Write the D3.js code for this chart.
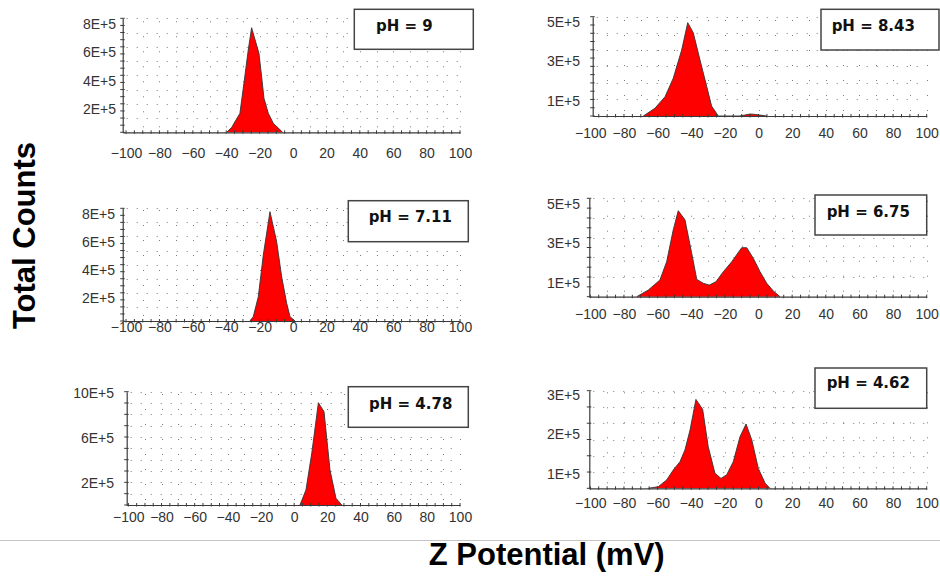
<!DOCTYPE html>
<html><head><meta charset="utf-8">
<script src="https://cdn.jsdelivr.net/npm/d3@7"></script>
<style>body{margin:0;background:#fff} svg{display:block}</style>
</head><body><svg id="c" width="940" height="576"></svg>
<script>
// ---------- data ----------
const xTickValues = [-100, -80, -60, -40, -20, 0, 20, 40, 60, 80, 100];
const phLabels = ["pH = 9", "pH = 8.43", "pH = 7.11", "pH = 6.75", "pH = 4.78", "pH = 4.62"];
const yAxisTitle = "Total Counts";
const xAxisTitle = "Z Potential (mV)";

// y tick values in units of 1E+5 counts
const yTicks_pH9   = [2, 4, 6, 8];
const yTicks_pH843 = [1, 3, 5];
const yTicks_pH711 = [2, 4, 6, 8];
const yTicks_pH675 = [1, 3, 5];
const yTicks_pH478 = [2, 6, 10];
const yTicks_pH462 = [1, 2, 3];

// zeta potential (mV) and total counts (x1E+5)
const zeta_pH9   = [-39.7, -36.7, -31.8, -29.4, -26.8, -24.8, -20.4, -18.8, -17.4, -14.8, -11.8, -6.2];
const counts_pH9 = [0, 0.35, 1.33, 3.44, 5.78, 7.34, 5.54, 3.9, 2.39, 1.33, 0.63, 0];

const zeta_pH843   = [-68.5, -61.6, -55.6, -50.7, -45.7, -42.1, -38.8, -34.8, -30.8, -27.9, -23.9, -11.4, -8, -5, -2, 4.9];
const counts_pH843 = [0, 0.39, 0.97, 1.9, 3.32, 4.7, 4.19, 2.82, 1.48, 0.5, 0, 0, 0.05, 0.1, 0.08, 0];

const zeta_pH711   = [-25.8, -23.8, -20.8, -17.8, -13.8, -9.8, -6.8, -3.8, -1.8, 1.2];
const counts_pH711 = [0, 0.31, 1.72, 4.68, 7.76, 5.63, 3.14, 1.26, 0.31, 0];

const zeta_pH675   = [-72.4, -65.5, -58.6, -54.6, -50.7, -47.7, -43.7, -39.7, -36.7, -32.8, -29.3, -25.3, -20.9, -15.9, -10.0, -7.0, -3.1, 0.9, 4.9, 8.8, 12.8];
const counts_pH675 = [0, 0.34, 0.85, 1.78, 3.39, 4.37, 3.9, 2.2, 0.88, 0.68, 0.59, 0.76, 1.27, 1.78, 2.49, 2.49, 1.95, 1.27, 0.68, 0.29, 0];

const zeta_pH478   = [3.5, 7.1, 10.6, 14.6, 18, 21.6, 25.2, 28.7];
const counts_pH478 = [0, 1.32, 4.56, 9.03, 8.24, 3.09, 0.6, 0];

const zeta_pH462   = [-65.5, -59.6, -54.6, -50.7, -46.7, -43.7, -40.7, -37.2, -33.2, -29.9, -25.9, -22.3, -18.9, -15.0, -11.0, -7.4, -4.0, -0.1, 3.9, 6.8];
const counts_pH462 = [0.54, 0.58, 0.75, 1.0, 1.21, 1.51, 2.01, 2.78, 2.53, 1.59, 0.92, 0.79, 0.88, 1.21, 1.84, 2.16, 1.76, 1.04, 0.67, 0.54];

const seriesZeta   = [zeta_pH9, zeta_pH843, zeta_pH711, zeta_pH675, zeta_pH478, zeta_pH462];
const seriesCounts = [counts_pH9, counts_pH843, counts_pH711, counts_pH675, counts_pH478, counts_pH462];
const seriesYTicks = [yTicks_pH9, yTicks_pH843, yTicks_pH711, yTicks_pH675, yTicks_pH478, yTicks_pH462];

// ---------- layout (positions / scale domains) ----------
const layouts = [
  {left:122.7, right:460,   xDom:[-102,100],   base:132.3, top:18.3,  yDom:[0,8],    rows:8,  yMinor:16, xGap:26,   yGap:6.7,  yDy:5.5, box:[354.3,9.3,119,40],    tx:404.3, ty:31},
  {left:592.7, right:926.7, xDom:[-98.6,100],  base:116,   top:16.7,  yDom:[0,5],    rows:6,  yMinor:12, xGap:22.3, yGap:12.7, yDy:5,   box:[821,9.3,118,40.7],    tx:873.3, ty:31},
  {left:122.7, right:460,   xDom:[-102,100],   base:321,   top:208.3, yDom:[0,8],    rows:8,  yMinor:16, xGap:11,   yGap:7.7,  yDy:5.5, box:[348.3,200.7,120,41],  tx:410.3, ty:222.3},
  {left:589.3, right:926.7, xDom:[-100.6,100], base:296.7, top:198.3, yDom:[0,5],    rows:5,  yMinor:10, xGap:22.6, yGap:9.3,  yDy:5.5, box:[815,195,111.7,40],    tx:868.3, ty:216.7},
  {left:126.7, right:460,   xDom:[-101,100],   base:505,   top:391.7, yDom:[0,10],   rows:10, yMinor:10, xGap:16.7, yGap:12.7, yDy:1,   box:[348.3,386.7,120,40.6], tx:410.7, ty:409},
  {left:589.3, right:926.7, xDom:[-100.6,100], base:488.3, top:390.7, yDom:[0.54,3], rows:6,  yMinor:6,  xGap:20,   yGap:9.3,  yDy:4,   box:[815,368,111.7,40.3],  tx:868.3, ty:388.3}
];

const svg = d3.select("#c");
const axisColor = "#3a3a3a";
const gridColor = "#7a7a7a";
const labelFont = "'Liberation Sans', Arial, sans-serif";

// separator line near bottom
svg.append("line").attr("x1", 0).attr("x2", 940).attr("y1", 540.5).attr("y2", 540.5)
  .attr("stroke", "#c4c4c4").attr("stroke-width", 1);

layouts.forEach((L, i) => {
  const x = d3.scaleLinear().domain(L.xDom).range([L.left, L.right]);
  const y = d3.scaleLinear().domain(L.yDom).range([L.base, L.top]);
  const g = svg.append("g");

  // dotted grid: rows
  const rowVals = d3.range(1, L.rows + 1).map(k => L.yDom[0] + k * (L.yDom[1] - L.yDom[0]) / L.rows);
  g.selectAll(".hg").data(rowVals).join("line")
    .attr("x1", L.left + 4).attr("x2", L.right)
    .attr("y1", d => Math.round(y(d)) + 0.5).attr("y2", d => Math.round(y(d)) + 0.5)
    .attr("stroke", gridColor).attr("stroke-width", 1).attr("stroke-dasharray", "1,9");
  // dotted grid: columns every 10 mV
  const colVals = d3.range(-90, 101, 10).filter(v => v > L.xDom[0] && v <= L.xDom[1]);
  g.selectAll(".vg").data(colVals).join("line")
    .attr("x1", d => Math.round(x(d)) + 0.5).attr("x2", d => Math.round(x(d)) + 0.5)
    .attr("y1", L.base - 5).attr("y2", L.top)
    .attr("stroke", gridColor).attr("stroke-width", 1).attr("stroke-dasharray", "1,14");

  // area
  const pts = seriesZeta[i].map((z, k) => [z, seriesCounts[i][k]]);
  g.append("path").datum(pts)
    .attr("d", d3.area().x(d => x(d[0])).y0(y(L.yDom[0])).y1(d => y(d[1])))
    .attr("fill", "#ff0000");
  g.append("path").datum(pts)
    .attr("d", d3.line().x(d => x(d[0])).y(d => y(d[1])))
    .attr("fill", "none").attr("stroke", "#333").attr("stroke-width", 0.9);

  // minor ticks on x axis (every 5 mV)
  const xMinor = d3.range(-100, 101, 5).filter(v => v >= L.xDom[0] && v <= L.xDom[1]);
  g.selectAll(".xm").data(xMinor).join("line")
    .attr("x1", d => x(d)).attr("x2", d => x(d))
    .attr("y1", L.base - 2).attr("y2", L.base + 1.5)
    .attr("stroke", axisColor).attr("stroke-width", 1);
  // minor ticks on y axis
  const yMinorVals = d3.range(0, L.yMinor + 1).map(k => L.yDom[0] + k * (L.yDom[1] - L.yDom[0]) / L.yMinor);
  g.selectAll(".ym").data(yMinorVals).join("line")
    .attr("x1", L.left - 2.5).attr("x2", L.left + 2)
    .attr("y1", d => y(d)).attr("y2", d => y(d))
    .attr("stroke", axisColor).attr("stroke-width", 1);

  // x axis
  const gx = g.append("g").attr("transform", `translate(0,${L.base})`)
    .call(d3.axisBottom(x).tickValues(xTickValues).tickSize(0).tickPadding(L.xGap - 10).tickSizeOuter(0));
  gx.select(".domain").attr("stroke", axisColor).attr("stroke-width", 1.2);
  gx.selectAll("text").attr("font-family", labelFont).attr("font-size", 14).attr("fill", "#333");

  // y axis
  const gy = g.append("g").attr("transform", `translate(${L.left},0)`)
    .call(d3.axisLeft(y).tickValues(seriesYTicks[i]).tickSize(0).tickPadding(L.yGap).tickSizeOuter(0)
      .tickFormat(d => d + "E+5"));
  gy.select(".domain").attr("stroke", axisColor).attr("stroke-width", 1.2);
  gy.selectAll("text").attr("font-family", labelFont).attr("font-size", 14).attr("fill", "#333")
    .attr("y", L.yDy);

  // pH box
  g.append("rect").attr("x", L.box[0]).attr("y", L.box[1]).attr("width", L.box[2]).attr("height", L.box[3])
    .attr("fill", "#fff").attr("stroke", "#444").attr("stroke-width", 1.5);
  g.append("text").attr("x", L.tx).attr("y", L.ty).attr("text-anchor", "middle")
    .attr("font-family", "'DejaVu Sans', Verdana, sans-serif").attr("font-weight", "bold")
    .attr("font-size", 15).attr("fill", "#111").text(phLabels[i]);
});

// axis titles
svg.append("text").attr("transform", "translate(35,235.5) rotate(-90)")
  .attr("text-anchor", "middle").attr("font-family", labelFont).attr("font-weight", "bold")
  .attr("font-size", 31).attr("fill", "#000").text(yAxisTitle);
svg.append("text").attr("x", 546.7).attr("y", 565)
  .attr("text-anchor", "middle").attr("font-family", labelFont).attr("font-weight", "bold")
  .attr("font-size", 31).attr("fill", "#000").text(xAxisTitle);
</script>
</body></html>
